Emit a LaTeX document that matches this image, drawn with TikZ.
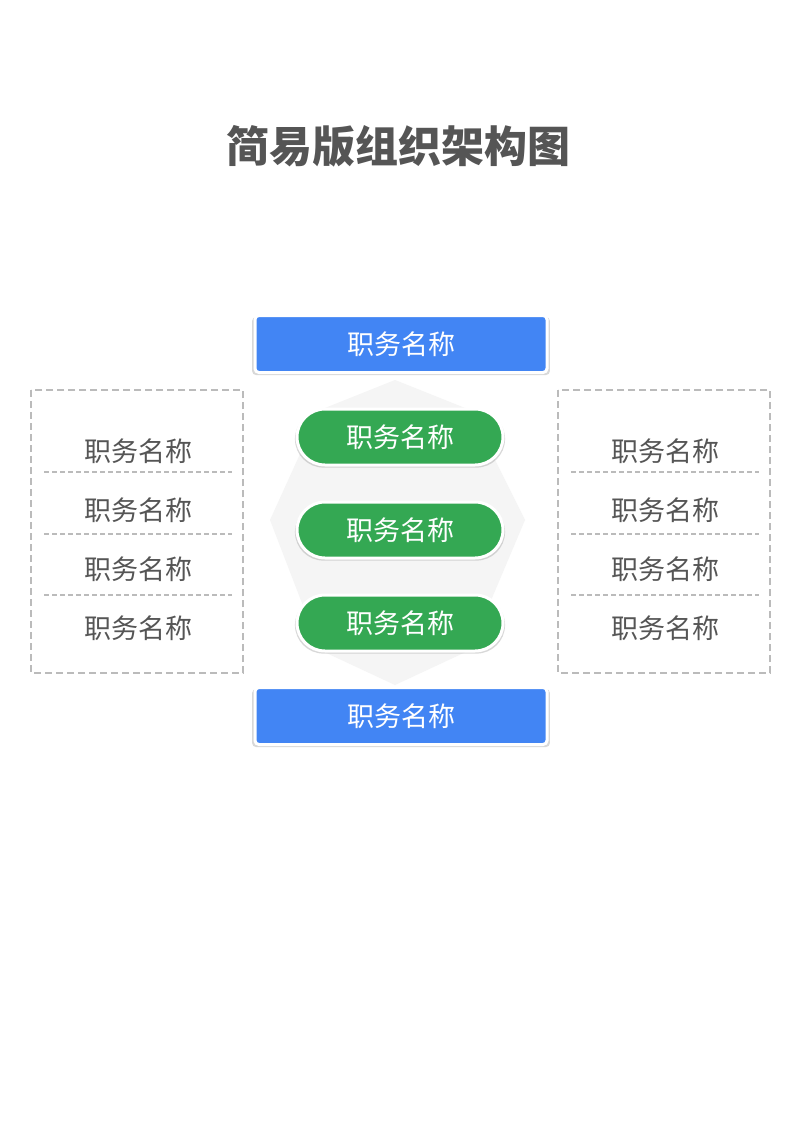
\documentclass[tikz,border=0pt]{standalone}
\usepackage{fontspec}
\usetikzlibrary{shadows}
\newfontfamily\cjk{Noto Sans CJK SC}
\definecolor{tgrey}{HTML}{555555}
\definecolor{dgrey}{HTML}{BBBBBB}
\definecolor{bblue}{HTML}{4285F4}
\definecolor{ggreen}{HTML}{34A853}
\begin{document}
\begin{tikzpicture}[x=1pt,y=-1pt,
  bluebox/.style={draw=white,line width=3pt,fill=bblue,rounded corners=4pt,minimum width=292pt,minimum height=57pt,text=white,font=\cjk\fontsize{27}{27}\selectfont,drop shadow={opacity=0.3,shadow xshift=0pt,shadow yshift=-2pt,shadow scale=1.02}},
  pill/.style={draw=white,line width=3pt,fill=ggreen,rounded corners=28pt,minimum width=206pt,minimum height=56pt,text=white,font=\cjk\fontsize{27}{27}\selectfont,drop shadow={opacity=0.3,shadow xshift=0pt,shadow yshift=-2pt,shadow scale=1.02}},
  lbl/.style={text=tgrey,font=\cjk\fontsize{27}{27}\selectfont},
  dbox/.style={draw=dgrey,line width=2pt,dash pattern=on 7pt off 4pt},
  dsep/.style={draw=dgrey,line width=1.2pt,dash pattern=on 5pt off 3pt}]
\useasboundingbox (0,0) rectangle (800,1131);
\fill[white] (0,0) rectangle (800,1131);
\node[text=tgrey,font=\cjk\bfseries\fontsize{43}{43}\selectfont] (title) at (398,146) {简易版组织架构图};
\fill[black!4] (395,380)--(470,410)--(525,520)--(470,650)--(395,685)--(320,650)--(270,520)--(320,410)--cycle;
\node[bluebox] (top) at (401,344) {职务名称};
\node[bluebox] (bot) at (401,716) {职务名称};
\node[pill] (g1) at (400,437) {职务名称};
\node[pill] (g2) at (400,530) {职务名称};
\node[pill] (g3) at (400,623) {职务名称};
\draw[dbox] (31,390) rectangle (243,673);
\draw[dbox] (558,390) rectangle (770,673);
\foreach \y in {472,534,595}{
  \draw[dsep] (44,\y)--(232,\y);
  \draw[dsep] (571,\y)--(759,\y);}
\foreach \y/\n in {451/1,510/2,569/3,628/4}{
  \node[lbl] (l\n) at (138,\y) {职务名称};
  \node[lbl] (r\n) at (665,\y) {职务名称};}
\end{tikzpicture}
\end{document}
